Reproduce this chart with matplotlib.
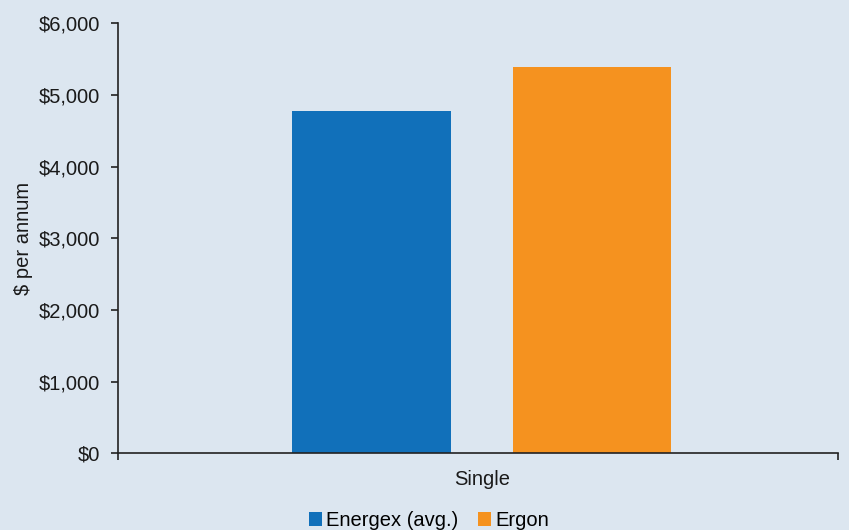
import matplotlib.pyplot as plt
import numpy as np

plt.rcParams['font.family'] = ['Liberation Sans', 'DejaVu Sans']

categories = ["Single"]
series_names = ["Energex (avg.)", "Ergon"]
energex = [4780]
ergon = [5390]
colors = ["#1170BA", "#F5921F"]
bg = "#DCE6F0"
fs = 14.5

fig = plt.figure(figsize=(8.49, 5.30), dpi=100, facecolor=bg)
ax = fig.add_axes([0.139, 0.145, 0.848, 0.811], facecolor=bg)

x = np.arange(len(categories))
width = 0.22
shift = 0.005
offset = 0.153
ax.bar(x - offset + shift, energex, width, color=colors[0], label=series_names[0])
ax.bar(x + offset + shift, ergon, width, color=colors[1], label=series_names[1])

ax.set_xlim(-0.5, 0.5)
ax.set_ylim(0, 6000)
ax.set_yticks(range(0, 6001, 1000))
ax.set_yticklabels([f"${v:,.0f}" for v in range(0, 6001, 1000)], fontsize=fs)
ax.set_xticks([-0.5, 0.5])
ax.set_xticklabels([])
ax.text(0.006, -0.04, categories[0], transform=ax.get_xaxis_transform(),
        ha='center', va='top', fontsize=fs, color='#1a1a1a')
ax.tick_params(axis='both', direction='out', length=5, width=1.2, colors='#222222', pad=8)
ax.tick_params(axis='y', labelcolor='#1a1a1a')
for s in ['top', 'right']:
    ax.spines[s].set_visible(False)
for s in ['left', 'bottom']:
    ax.spines[s].set_color('#222222')
    ax.spines[s].set_linewidth(1.2)
ax.set_ylabel("$ per annum", fontsize=fs, color='#1a1a1a', labelpad=4)

fig.legend(loc='lower center', bbox_to_anchor=(0.505, -0.034), ncol=2, frameon=False,
           fontsize=fs, handlelength=0.65, handleheight=0.65, handletextpad=0.2,
           columnspacing=1.0)

fig.savefig("out.png", dpi=100, facecolor=bg)
